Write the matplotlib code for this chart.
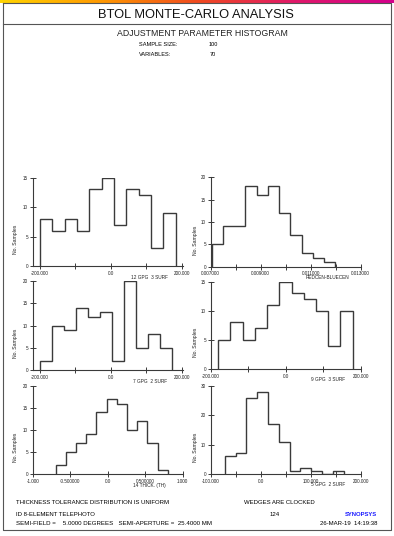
import numpy as np
import matplotlib.pyplot as plt
from matplotlib.colors import LinearSegmentedColormap

W, H = 394, 536
plt.rcParams['font.family'] = ['Liberation Sans', 'DejaVu Sans']

# histogram counts and bin ranges
counts_1 = [8, 6, 8, 6, 13, 15, 7, 13, 12, 3, 9]
range_1 = (-200.0, 182.8)
counts_2 = [5, 9, 9, 18, 16, 18, 12, 7, 3, 2, 1]
range_2 = (0.00704, 0.01199)
counts_3 = [2, 10, 9, 14, 12, 13, 2, 20, 5, 8, 5]
range_3 = (-200.0, 173.6)
counts_4 = [5, 8, 5, 7, 11, 15, 13, 12, 10, 4, 10]
range_4 = (-180.4, 178.7)
counts_5 = [2, 5, 7, 9, 14, 17, 16, 10, 12, 7, 1]
range_5 = (-0.693, 0.800)
counts_6 = [6, 7, 26, 28, 17, 11, 1, 2, 1, 0, 1]
range_6 = (-72.0, 166.0)

names = ['12 GPG  3 SURF', 'REDCEN-BLUECEN', '7 GPG  2 SURF',
         '9 GPG  3 SURF', '14 THICK. (TH)', '5 GPG  2 SURF']

ticks_rad = [-200, -100, 0, 100, 200]
labels_rad = ['-200.000', '', '0.0', '', '200.000']
ticks_cen = [0.007, 0.008, 0.009, 0.010, 0.011, 0.012, 0.013]
labels_cen = ['0.007000', '', '0.009000', '', '0.011000', '', '0.013000']
ticks_th = [-1.0, -0.5, 0.0, 0.5, 1.0]
labels_th = ['-1.000', '-0.500000', '0.0', '0.500000', '1.000']
ticks_6 = [-100, -50, 0, 50, 100, 150, 200]
labels_6 = ['-100.000', '', '0.0', '', '100.000', '', '200.000']

LC = '#3a3a3a'

fig = plt.figure(figsize=(W / 100, H / 100), dpi=100)


def px_axes(left, right, top, bottom):
    return fig.add_axes([left / W, 1 - bottom / H, (right - left) / W, (bottom - top) / H])


def ftext(x, y, s, **kw):
    fig.text(x / W, 1 - y / H, s, **kw)


# gradient strip on top
grad = LinearSegmentedColormap.from_list('strip', ['#ffd400', '#ff9a00', '#f04a1e', '#e0186a', '#d4008c'])
gax = px_axes(0, W, 0, 2.6)
gax.imshow(np.linspace(0, 1, 256)[None, :], aspect='auto', cmap=grad)
gax.axis('off')

# frame
fax = px_axes(0, W, 0, H)
fax.set_xlim(0, W)
fax.set_ylim(H, 0)
fax.axis('off')
fax.plot([2.7, 390.7, 390.7, 2.7, 2.7], [3.3, 3.3, 530, 530, 3.3], color='#555555', lw=0.8)
fax.plot([2.7, 390.7], [24.3, 24.3], color='#555555', lw=0.8)

ftext(196, 15.5, 'BTOL MONTE-CARLO ANALYSIS', fontsize=9.3, ha='center', va='center', color='#111111')
ftext(202, 33.5, 'ADJUSTMENT PARAMETER HISTOGRAM', fontsize=6.3, ha='center', va='center', color='#222222')
ftext(139, 44.5, 'SAMPLE SIZE:', fontsize=4.1, ha='left', va='center')
ftext(213, 44.5, '100', fontsize=4.1, ha='center', va='center')
ftext(139, 55, 'VARIABLES:', fontsize=4.1, ha='left', va='center')
ftext(213, 55, '70', fontsize=4.1, ha='center', va='center')

panels = [
    (counts_1, range_1, (32.7, 182.7, 177.7, 266), (-220.6, 202.8), ticks_rad, labels_rad, [0, 5, 10, 15]),
    (counts_2, range_2, (210.7, 360.7, 177.3, 266.7), (0.007, 0.013), ticks_cen, labels_cen, [0, 5, 10, 15, 20]),
    (counts_3, range_3, (32.7, 182.7, 281, 370), (-220.6, 202.8), ticks_rad, labels_rad, [0, 5, 10, 15, 20]),
    (counts_4, range_4, (210.7, 360.7, 281.7, 369), (-200, 200), ticks_rad, labels_rad, [0, 5, 10, 15]),
    (counts_5, range_5, (32.7, 182.7, 386, 474), (-1, 1), ticks_th, labels_th, [0, 5, 10, 15, 20]),
    (counts_6, range_6, (210.7, 360.7, 386, 474), (-100, 200), ticks_6, labels_6, [0, 10, 20, 30]),
]

for (counts, rng, box, xlim, xt, xtl, yt), name in zip(panels, names):
    ax = px_axes(*box)
    edges = np.linspace(rng[0], rng[1], len(counts) + 1)
    ax.stairs(counts, edges, baseline=0, color=LC, lw=1.0)
    ax.set_xlim(*xlim)
    ax.set_ylim(0, yt[-1])
    ax.set_xticks(xt)
    ax.set_xticklabels(xtl)
    ax.set_yticks(yt)
    ax.set_yticklabels([str(v) for v in yt])
    ax.patch.set_alpha(0)
    for s in ['top', 'right']:
        ax.spines[s].set_visible(False)
    for s in ['left', 'bottom']:
        ax.spines[s].set_color(LC)
        ax.spines[s].set_linewidth(0.8)
    ax.tick_params(direction='inout', length=4.5, width=0.7, color=LC,
                   labelsize=3.3, pad=1.2, labelcolor='#222222')
    ax.text(0.78, -0.125, name, transform=ax.transAxes, fontsize=3.4,
            ha='center', va='center', color='#222222')
    lx = 16 if box[0] < 100 else 196
    ftext(lx, box[3] - 0.3 * (box[3] - box[2]), 'No. Samples', rotation=90,
          fontsize=3.7, ha='center', va='center', color='#222222')

ftext(16, 502.7, 'THICKNESS TOLERANCE DISTRIBUTION IS UNIFORM', fontsize=4.3, ha='left', va='center')
ftext(244, 502.7, 'WEDGES ARE CLOCKED', fontsize=4.3, ha='left', va='center')
ftext(16, 514, 'ID 8-ELEMENT TELEPHOTO', fontsize=4.3, ha='left', va='center')
ftext(275, 514, '124', fontsize=4.3, ha='center', va='center')
ftext(377, 514, 'SYNOPSYS', fontsize=4.2, ha='right', va='center', color='#1a1aff', fontweight='bold')
ftext(16, 523.5, 'SEMI-FIELD =    5.0000 DEGREES   SEMI-APERTURE =  25.4000 MM', fontsize=4.4, ha='left', va='center')
ftext(377, 523.5, '26-MAR-19  14:19:38', fontsize=4.3, ha='right', va='center')

fig.savefig('out.png', dpi=100)
